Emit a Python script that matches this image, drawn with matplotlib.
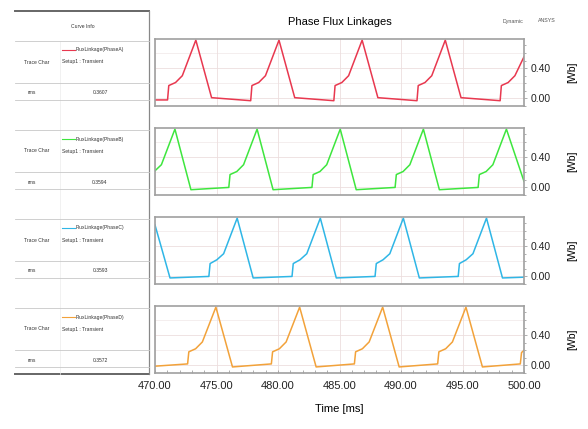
import numpy as np
import matplotlib; matplotlib.use("Agg")
import matplotlib.pyplot as plt
from matplotlib.lines import Line2D
from matplotlib.ticker import MultipleLocator

plt.rcParams["font.family"] = ["Liberation Sans", "DejaVu Sans"]

# --- data (time in ms, flux linkage in Wb) ---
t_a = [470.00, 471.02, 471.12, 471.67, 472.22, 473.32, 474.60,
       477.78, 477.88, 478.43, 478.98, 480.08, 481.36,
       484.54, 484.64, 485.19, 485.74, 486.84, 488.12,
       491.30, 491.40, 491.95, 492.50, 493.60, 494.88,
       498.06, 498.16, 498.71, 499.26, 500.00]
v_a = [-0.02, -0.02, 0.17, 0.21, 0.30, 0.77, 0.01,
       -0.03, 0.17, 0.21, 0.30, 0.77, 0.01,
       -0.03, 0.17, 0.21, 0.30, 0.77, 0.01,
       -0.03, 0.17, 0.21, 0.30, 0.77, 0.01,
       -0.03, 0.17, 0.21, 0.30, 0.55]

t_b = [470.00, 470.52, 471.62, 472.92,
       476.00, 476.10, 476.65, 477.20, 478.30, 479.60,
       482.76, 482.86, 483.41, 483.96, 485.06, 486.36,
       489.52, 489.62, 490.17, 490.72, 491.82, 493.12,
       496.27, 496.37, 496.92, 497.47, 498.57, 500.00]
v_b = [0.22, 0.30, 0.77, -0.03,
       0.00, 0.17, 0.21, 0.30, 0.77, -0.03,
       0.00, 0.17, 0.21, 0.30, 0.77, -0.03,
       0.00, 0.17, 0.21, 0.30, 0.77, -0.03,
       0.00, 0.17, 0.21, 0.30, 0.77, 0.08]

t_c = [470.00, 471.22,
       474.38, 474.48, 475.03, 475.58, 476.68, 477.98,
       481.14, 481.24, 481.79, 482.34, 483.44, 484.74,
       487.89, 487.99, 488.54, 489.09, 490.19, 491.49,
       494.65, 494.75, 495.30, 495.85, 496.95, 498.25, 500.00]
v_c = [0.68, -0.02,
       0.00, 0.17, 0.22, 0.30, 0.77, -0.02,
       0.00, 0.17, 0.22, 0.30, 0.77, -0.02,
       0.00, 0.17, 0.22, 0.30, 0.77, -0.02,
       0.00, 0.17, 0.22, 0.30, 0.77, -0.02, -0.01]

t_d = [470.00, 472.65, 472.75, 473.30, 473.85, 474.95, 476.30,
       479.46, 479.56, 480.11, 480.66, 481.76, 483.10,
       486.21, 486.31, 486.86, 487.41, 488.51, 489.85,
       492.98, 493.08, 493.63, 494.18, 495.28, 496.62,
       499.70, 499.80, 500.00]
v_d = [-0.01, 0.02, 0.18, 0.22, 0.31, 0.77, -0.02,
       0.02, 0.18, 0.22, 0.31, 0.77, -0.02,
       0.02, 0.18, 0.22, 0.31, 0.77, -0.02,
       0.02, 0.18, 0.22, 0.31, 0.77, -0.02,
       0.02, 0.17, 0.20]

names = ["FluxLinkage(PhaseA)", "FluxLinkage(PhaseB)",
         "FluxLinkage(PhaseC)", "FluxLinkage(PhaseD)"]
rms_vals = ["0.3607", "0.3594", "0.3593", "0.3572"]
colors = ["#e8384f", "#3ee63e", "#2fb6e6", "#f2a23a"]
series = [(t_a, v_a), (t_b, v_b), (t_c, v_c), (t_d, v_d)]
xticks = [470, 475, 480, 485, 490, 495, 500]

W, H = 588, 429
fig = plt.figure(figsize=(W/100, H/100), dpi=100)

def fx(x): return x / W
def fy(y): return 1 - y / H

panel_tops = [39, 128, 217, 306]
ph = 67
x0, x1 = 155, 524
gray = "#a0a0a0"

for i, (t, v) in enumerate(series):
    top = panel_tops[i]
    ax = fig.add_axes([fx(x0), fy(top + ph), fx(x1) - fx(x0), ph / H])
    ax.plot(t, v, color=colors[i], lw=1.1)
    ax.set_xlim(470, 500)
    ax.set_ylim(-0.10, 0.785)
    ax.yaxis.tick_right()
    ax.set_yticks([0.0, 0.4])
    ax.set_yticklabels(["0.00", "0.40"])
    ax.yaxis.set_minor_locator(MultipleLocator(0.1))
    ax.set_xticks(xticks)
    ax.xaxis.set_minor_locator(MultipleLocator(1))
    ax.tick_params(axis="y", which="both", direction="out", colors=gray,
                   labelcolor="#222222", labelsize=7.5, length=2.5, width=0.6, pad=2)
    ax.tick_params(axis="y", which="minor", length=1.5)
    ax.grid(True, which="major", color="#ecdede", lw=0.6)
    ax.axhline(0.2, color="#f0e8e8", lw=0.5, zorder=0)
    ax.axhline(0.6, color="#f0e8e8", lw=0.5, zorder=0)
    for s in ax.spines.values():
        s.set_color(gray); s.set_linewidth(1.2)
    ax.set_ylabel("[Wb]", fontsize=7.5, rotation=90, labelpad=12)
    ax.yaxis.set_label_position("right")
    if i < 3:
        ax.tick_params(axis="x", which="both", bottom=False, labelbottom=False)
    else:
        ax.set_xticklabels([f"{x:.2f}" for x in xticks])
        ax.tick_params(axis="x", which="both", direction="in", colors=gray,
                       labelcolor="#222222", labelsize=8, length=2.5, width=0.6, pad=6)
        ax.set_xlabel("Time [ms]", fontsize=8, labelpad=9)

fig.text(fx(340), fy(22), "Phase Flux Linkages", ha="center", va="center", fontsize=8)
fig.text(fx(513), fy(22), "Dynamic", ha="center", va="center", fontsize=3.8, color="#555555")
fig.text(fx(547), fy(21), "ANSYS", ha="center", va="center", fontsize=3.8, color="#555555")

# --- curve info table on the left ---
def hline(y, x_a=15, x_b=149, c="#c8c8c8", lw=0.6):
    fig.add_artist(Line2D([fx(x_a), fx(x_b)], [fy(y), fy(y)], color=c, lw=lw))

def vline(x, y_a, y_b, c="#c8c8c8", lw=0.6):
    fig.add_artist(Line2D([fx(x), fx(x)], [fy(y_a), fy(y_b)], color=c, lw=lw))

hline(11, c="#666666", lw=1.4)
hline(374, c="#666666", lw=1.4)
vline(149, 11, 374, c="#888888", lw=0.9)
vline(60, 41, 374, c="#ececec", lw=0.5)
fig.text(fx(83), fy(27), "Curve Info", ha="center", va="center", fontsize=3.6, color="#333333")
for i in range(4):
    top = panel_tops[i] + 2
    hline(top)
    fig.add_artist(Line2D([fx(62), fx(75)], [fy(top + 9), fy(top + 9)], color=colors[i], lw=0.8))
    fig.text(fx(76), fy(top + 9), names[i], ha="left", va="center", fontsize=3.6, color="#333333")
    fig.text(fx(37), fy(top + 21), "Trace Char", ha="center", va="center", fontsize=3.6, color="#333333")
    fig.text(fx(62), fy(top + 21), "Setup1 : Transient", ha="left", va="center", fontsize=3.6, color="#333333")
    hline(top + 42)
    fig.text(fx(32), fy(top + 52), "rms", ha="center", va="center", fontsize=3.6, color="#333333")
    fig.text(fx(100), fy(top + 52), rms_vals[i], ha="center", va="center", fontsize=3.6, color="#333333")
    hline(top + 59)

fig.savefig("out.png", dpi=100)
